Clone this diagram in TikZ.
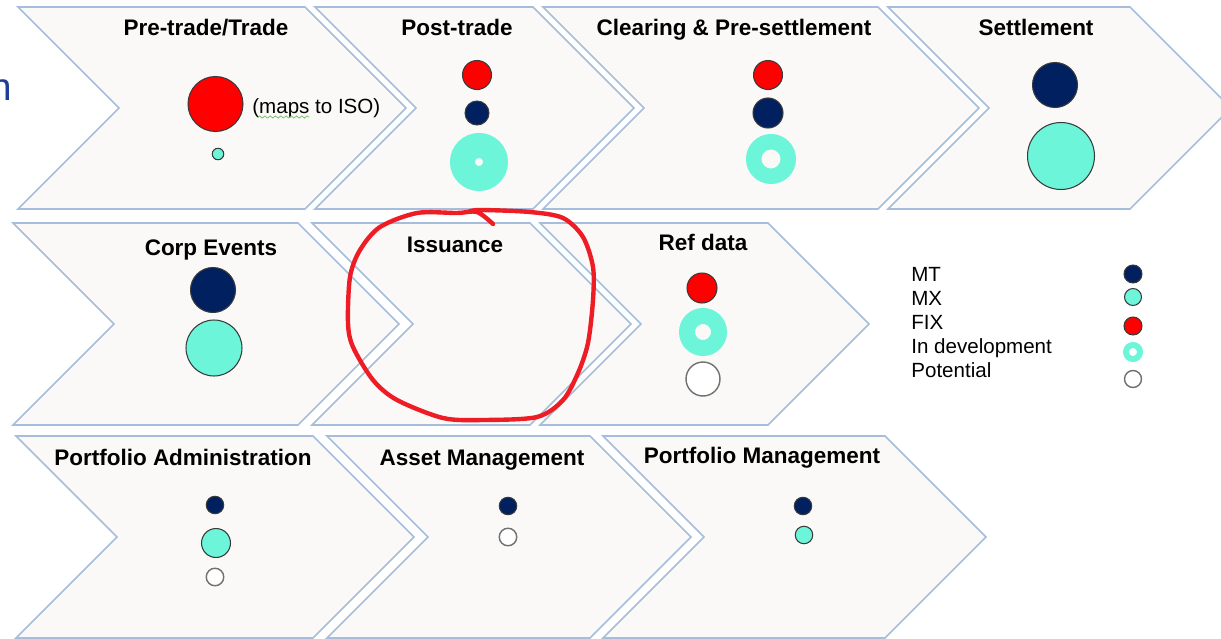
\documentclass[tikz,border=0pt]{standalone}
\usepackage{fontspec}
\setmainfont{Liberation Sans}
\usetikzlibrary{decorations.pathmorphing}
\definecolor{chevline}{HTML}{A6BDDB}
\definecolor{chevfill}{HTML}{FAF9F8}
\definecolor{mtnavy}{HTML}{002060}
\definecolor{mxteal}{HTML}{6CF5D8}
\definecolor{fixred}{HTML}{FF0000}
\definecolor{dotedge}{HTML}{3A3A3A}
\definecolor{potgrey}{HTML}{707070}
\definecolor{penred}{HTML}{EE1C25}
\definecolor{cutblue}{HTML}{1F3C96}
\definecolor{spellgreen}{HTML}{6FBF60}
\tikzset{
  chev/.style={draw=chevline, line width=0.9pt, fill=chevfill},
  ttl/.style={font=\bfseries\fontsize{12.8}{14}\selectfont, inner sep=0, anchor=base},
  lbl/.style={font=\fontsize{11.7}{13}\selectfont, inner sep=0, anchor=base west},
  dot/.style={circle, inner sep=0, line width=0.6pt, draw=dotedge},
  mt/.style={dot, fill=mtnavy},
  mx/.style={dot, fill=mxteal},
  fix/.style={dot, fill=fixred},
  dev/.style={circle, inner sep=0, draw=mxteal},
  pot/.style={dot, fill=white, draw=potgrey, line width=0.8pt},
  redpen/.style={draw=penred, line width=2.5pt, line cap=round, line join=round}
}
\begin{document}
\begin{tikzpicture}[x=0.02cm,y=-0.02cm]
\useasboundingbox (0,0) rectangle (1221,639);
\pgfmathsetmacro{\d}{101};
% chevrons, row by row
\foreach \l/\r/\t in {18/305/7,315/533/7,543/878/7,888/1130/7,13/298/223,312/530/223,540/768/223,16/313/436,327/590/436,603/885/436}
  \draw[chev] (\l,\t) -- (\r,\t) -- (\r+\d,\t+\d) -- (\r,\t+2*\d) -- (\l,\t+2*\d) -- (\l+\d,\t+\d) -- cycle;
\node[anchor=base east, inner sep=0, font=\fontsize{22}{24}\selectfont, text=cutblue] (cut) at (12.5,100) {n};
% titles
\node[ttl] (pretrade) at (206,35) {Pre-trade/Trade};
\node[ttl] (posttrade) at (457,35) {Post-trade};
\node[ttl] (clearing) at (734,35) {Clearing \& Pre-settlement};
\node[ttl] (settlement) at (1036,35) {Settlement};
\node[ttl] (corpevents) at (211,255) {Corp Events};
\node[ttl] (issuance) at (455,252) {Issuance};
\node[ttl] (refdata) at (703,250) {Ref data};
\node[ttl] (portadmin) at (183,465) {Portfolio Administration};
\node[ttl] (assetmgmt) at (482,465) {Asset Management};
\node[ttl] (portmgmt) at (762,463) {Portfolio Management};
% Pre-trade/Trade
\node[fix, minimum size=1.1cm] (ptfix) at (215.5,104) {};
\node[mx, minimum size=0.23cm] (ptmx) at (218,154) {};
\node[lbl] (maps) at (252,113) {(maps to ISO)};
\draw[spellgreen, line width=0.4pt, decorate, decoration={snake, amplitude=0.6, segment length=3}] (258,117) -- (309,117);
% Post-trade
\node[fix, minimum size=0.58cm] (potfix) at (477,75) {};
\node[mt, minimum size=0.48cm] (potmt) at (477,113) {};
\node[dev, line width=0.5cm, minimum size=0.66cm] (potdev) at (479,162) {};
% Clearing & Pre-settlement
\node[fix, minimum size=0.58cm] (clfix) at (768,75) {};
\node[mt, minimum size=0.6cm] (clmt) at (768,113) {};
\node[dev, line width=0.31cm, minimum size=0.69cm] (cldev) at (771,159) {};
% Settlement
\node[mt, minimum size=0.9cm] (semt) at (1055,85) {};
\node[mx, minimum size=1.34cm] (semx) at (1061,156) {};
% Corp Events
\node[mt, minimum size=0.9cm] (cemt) at (213,290) {};
\node[mx, minimum size=1.12cm] (cemx) at (214,348) {};
% Ref data
\node[fix, minimum size=0.6cm] (rdfix) at (702,288) {};
\node[dev, line width=0.32cm, minimum size=0.64cm] (rddev) at (703,332) {};
\node[pot, minimum size=0.68cm] (rdpot) at (703,379) {};
% Portfolio Administration
\node[mt, minimum size=0.35cm] (pamt) at (215,505) {};
\node[mx, minimum size=0.58cm] (pamx) at (216,543) {};
\node[pot, minimum size=0.35cm] (papot) at (215,577) {};
% Asset Management
\node[mt, minimum size=0.35cm] (ammt) at (508,506) {};
\node[pot, minimum size=0.35cm] (ampot) at (508,537) {};
% Portfolio Management
\node[mt, minimum size=0.35cm] (pmmt) at (803,506) {};
\node[mx, minimum size=0.35cm] (pmmx) at (804,535) {};
% legend
\node[lbl] (lgmt) at (911,281) {MT};
\node[lbl] (lgmx) at (911,305) {MX};
\node[lbl] (lgfix) at (911,329) {FIX};
\node[lbl] (lgdev) at (911,353) {In development};
\node[lbl] (lgpot) at (911,377) {Potential};
\node[mt, minimum size=0.36cm] (kmt) at (1133,274) {};
\node[mx, minimum size=0.34cm] (kmx) at (1133,297) {};
\node[fix, minimum size=0.36cm] (kfix) at (1133,326) {};
\node[dev, line width=0.12cm, minimum size=0.28cm] (kdev) at (1133,352) {};
\node[pot, minimum size=0.34cm] (kpot) at (1133,379) {};
% hand-drawn mark round Issuance
\draw[redpen] plot[smooth] coordinates {(493,224) (477,212) (457,213) (417,213) (380,227) (360,250) (350,277) (348,323) (353,347) (373,380) (397,400) (443,418) (483,420) (537,417) (563,400) (578,373) (588,343) (593,300) (593,267) (583,237) (563,218) (530,212) (480,210) (468,212)};
\end{tikzpicture}
\end{document}
